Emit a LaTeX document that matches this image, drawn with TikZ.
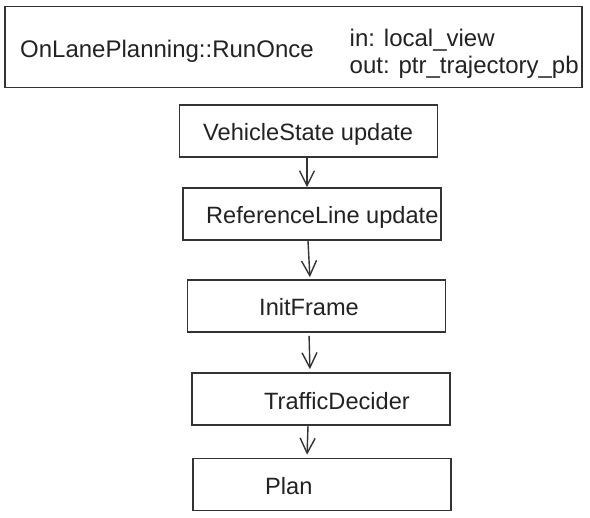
\documentclass[tikz,border=0pt]{standalone}
\usepackage{fontspec}
\setmainfont{Liberation Sans}
\usetikzlibrary{arrows.meta}
\definecolor{linec}{HTML}{333333}
\definecolor{textc}{HTML}{222222}
\begin{document}
\begin{tikzpicture}[x=1pt,y=-1pt,
  box/.style={draw=linec,line width=1.6pt,minimum width=258pt,minimum height=52pt,inner sep=0pt},
  txt/.style={text=textc,font=\fontsize{23.6}{28}\selectfont,inner sep=0pt,anchor=base west},
  arr/.style={draw=linec,line width=1.4pt,-{Straight Barb[length=15pt,width=15pt,line width=1.4pt]}}]
\useasboundingbox (0,0) rectangle (590,518);
% top box
\node[draw=linec,line width=1.6pt,minimum width=577pt,minimum height=81pt,inner sep=0pt] (top) at (293.5,47) {};
\node[txt,font=\fontsize{24}{28}\selectfont] (title) at (20,58) {OnLanePlanning::RunOnce};
\node[txt,font=\fontsize{24}{28}\selectfont] (io1) at (349.5,47) {in: local\_view};
\node[txt,font=\fontsize{24}{28}\selectfont] (io2) at (349.5,74) {out: ptr\_trajectory\_pb};
% boxes
\node[box] (b1) at (308.5,131) {};
\node[box] (b2) at (312,214) {};
\node[box] (b3) at (316.5,306) {};
\node[box] (b4) at (321,399) {};
\node[box] (b5) at (322,484.5) {};
% texts
\node[txt] (t1) at (203,141) {VehicleState update};
\node[txt] (t2) at (206,224) {ReferenceLine update};
\node[txt] (t3) at (259,316) {InitFrame};
\node[txt] (t4) at (264,410) {TrafficDecider};
\node[txt] (t5) at (265,495) {Plan};
% arrows
\draw[arr] ([xshift=-1.5pt]b1.south) -- ([xshift=-5pt]b2.north);
\draw[arr,shorten >=2pt] ([xshift=-4pt]b2.south) -- ([xshift=-6.5pt]b3.north);
\draw[arr,shorten <=3pt,shorten >=3pt] ([xshift=-7.5pt]b3.south) -- ([xshift=-11pt]b4.north);
\draw[arr,shorten >=3pt] ([xshift=-13pt]b4.south) -- ([xshift=-15pt]b5.north);
\end{tikzpicture}
\end{document}
